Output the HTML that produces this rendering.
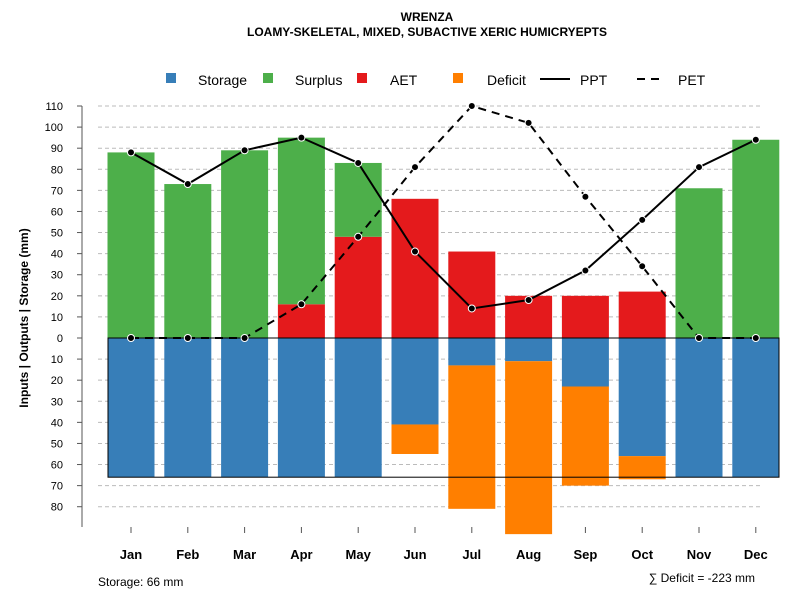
<!DOCTYPE html>
<html><head><meta charset="utf-8"><style>
body{margin:0;background:#fff}
svg{font-family:"Liberation Sans",sans-serif}
</style></head><body>
<svg id="chart" width="800" height="600" viewBox="0 0 800 600">
<text x="427" y="21" text-anchor="middle" font-size="12" font-weight="bold">WRENZA</text>
<text x="427" y="36" text-anchor="middle" font-size="12" font-weight="bold">LOAMY-SKELETAL, MIXED, SUBACTIVE XERIC HUMICRYEPTS</text>
<g font-size="14">
<g><rect x="166" y="73" width="10" height="10" fill="#377eb8"/><text x="198" y="85">Storage</text></g>
<g><rect x="263" y="73" width="10" height="10" fill="#4daf4a"/><text x="295" y="85">Surplus</text></g>
<g><rect x="357" y="73" width="10" height="10" fill="#e41a1c"/><text x="390" y="85">AET</text></g>
<g><rect x="453" y="73" width="10" height="10" fill="#ff7f00"/><text x="487" y="85">Deficit</text></g>
<g><line x1="540" y1="79" x2="570" y2="79" stroke="#000" stroke-width="2"/><text x="580" y="85">PPT</text></g>
<g><line x1="637" y1="79" x2="665" y2="79" stroke="#000" stroke-width="2" stroke-dasharray="8,6"/><text x="678" y="85">PET</text></g>
</g>
<text transform="translate(28,318) rotate(-90)" text-anchor="middle" font-size="12" font-weight="bold">Inputs | Outputs | Storage    (mm)</text>
<g id="grid"></g><g id="axes"></g><g id="bars"></g><g id="lines"></g>
<text x="98" y="586" font-size="12">Storage: 66 mm</text>
<text x="755" y="582" text-anchor="end" font-size="12">∑ Deficit = -223 mm</text>
</svg>
<script>
const months=["Jan","Feb","Mar","Apr","May","Jun","Jul","Aug","Sep","Oct","Nov","Dec"];
const storage=[66,66,66,66,66,41,13,11,23,56,66,66];
const deficit=[0,0,0,0,0,14,68,82,47,11,0,0];
const aet=[0,0,0,16,48,66,41,20,20,22,0,0];
const surplus=[88,73,89,79,35,0,0,0,0,0,71,94];
const ppt=[88,73,89,95,83,41,14,18,32,56,81,94];
const pet=[0,0,0,16,48,81,110,102,67,34,0,0];
const posTicks=[0,10,20,30,40,50,60,70,80,90,100,110];
const negTicks=[10,20,30,40,50,60,70,80];
const maxStorage=66;
const NS="http://www.w3.org/2000/svg";
const y0=338,unit=2.109;
const yv=v=>y0-v*unit;
const xc=i=>131+i*56.8;
const bw=47;
function mk(tag,attrs,parent){const e=document.createElementNS(NS,tag);for(const k in attrs)e.setAttribute(k,attrs[k]);parent.appendChild(e);return e;}
const grid=document.getElementById('grid'),axes=document.getElementById('axes'),bars=document.getElementById('bars'),lines=document.getElementById('lines');
posTicks.forEach(t=>{if(t>0){const g=mk('line',{x1:98,x2:760,y1:yv(t),y2:yv(t),stroke:'#bbb','stroke-dasharray':'4,3'},grid);

}
mk('line',{x1:77,x2:82,y1:yv(t),y2:yv(t),stroke:'#555'},axes);
const l=mk('text',{x:63,y:yv(t)+4,'text-anchor':'end','font-size':11},axes);l.textContent=t;

});
negTicks.forEach(t=>{const g=mk('line',{x1:98,x2:760,y1:yv(-t),y2:yv(-t),stroke:'#bbb','stroke-dasharray':'4,3'},grid);


mk('line',{x1:77,x2:82,y1:yv(-t),y2:yv(-t),stroke:'#555'},axes);
const l=mk('text',{x:63,y:yv(-t)+4,'text-anchor':'end','font-size':11},axes);l.textContent=t;

});
mk('line',{x1:82,x2:82,y1:yv(110),y2:527,stroke:'#555'},axes);
months.forEach((m,i)=>{mk('line',{x1:xc(i),x2:xc(i),y1:527,y2:533,stroke:'#555'},axes);
const l=mk('text',{x:xc(i),y:559,'text-anchor':'middle','font-size':13,'font-weight':'bold'},axes);l.textContent=m;

});
function bar(i,from,to,color,name){if(to===from)return;const r=mk('rect',{x:xc(i)-bw/2,y:Math.min(yv(from),yv(to)),width:bw,height:Math.abs(yv(from)-yv(to)),fill:color},bars);

}
months.forEach((m,i)=>{
bar(i,0,-storage[i],'#377eb8','storage-bar-'+m.toLowerCase());
bar(i,-storage[i],-storage[i]-deficit[i],'#ff7f00','deficit-bar-'+m.toLowerCase());
bar(i,0,aet[i],'#e41a1c','aet-bar-'+m.toLowerCase());
bar(i,aet[i],aet[i]+surplus[i],'#4daf4a','surplus-bar-'+m.toLowerCase());});
const box=mk('rect',{x:108,y:y0,width:671,height:maxStorage*unit,fill:'none',stroke:'#000'},bars);


function series(vals,dash,name){const p=mk('polyline',{points:vals.map((v,i)=>xc(i)+','+yv(v)).join(' '),fill:'none',stroke:'#000','stroke-width':2,'stroke-dasharray':dash},lines);


vals.forEach((v,i)=>{const c=mk('circle',{cx:xc(i),cy:yv(v),r:3.5,fill:'#000',stroke:'#fff','stroke-width':1},lines);

});}
series(pet,'8,6','pet');
series(ppt,'none','ppt');
</script>
</body></html>
